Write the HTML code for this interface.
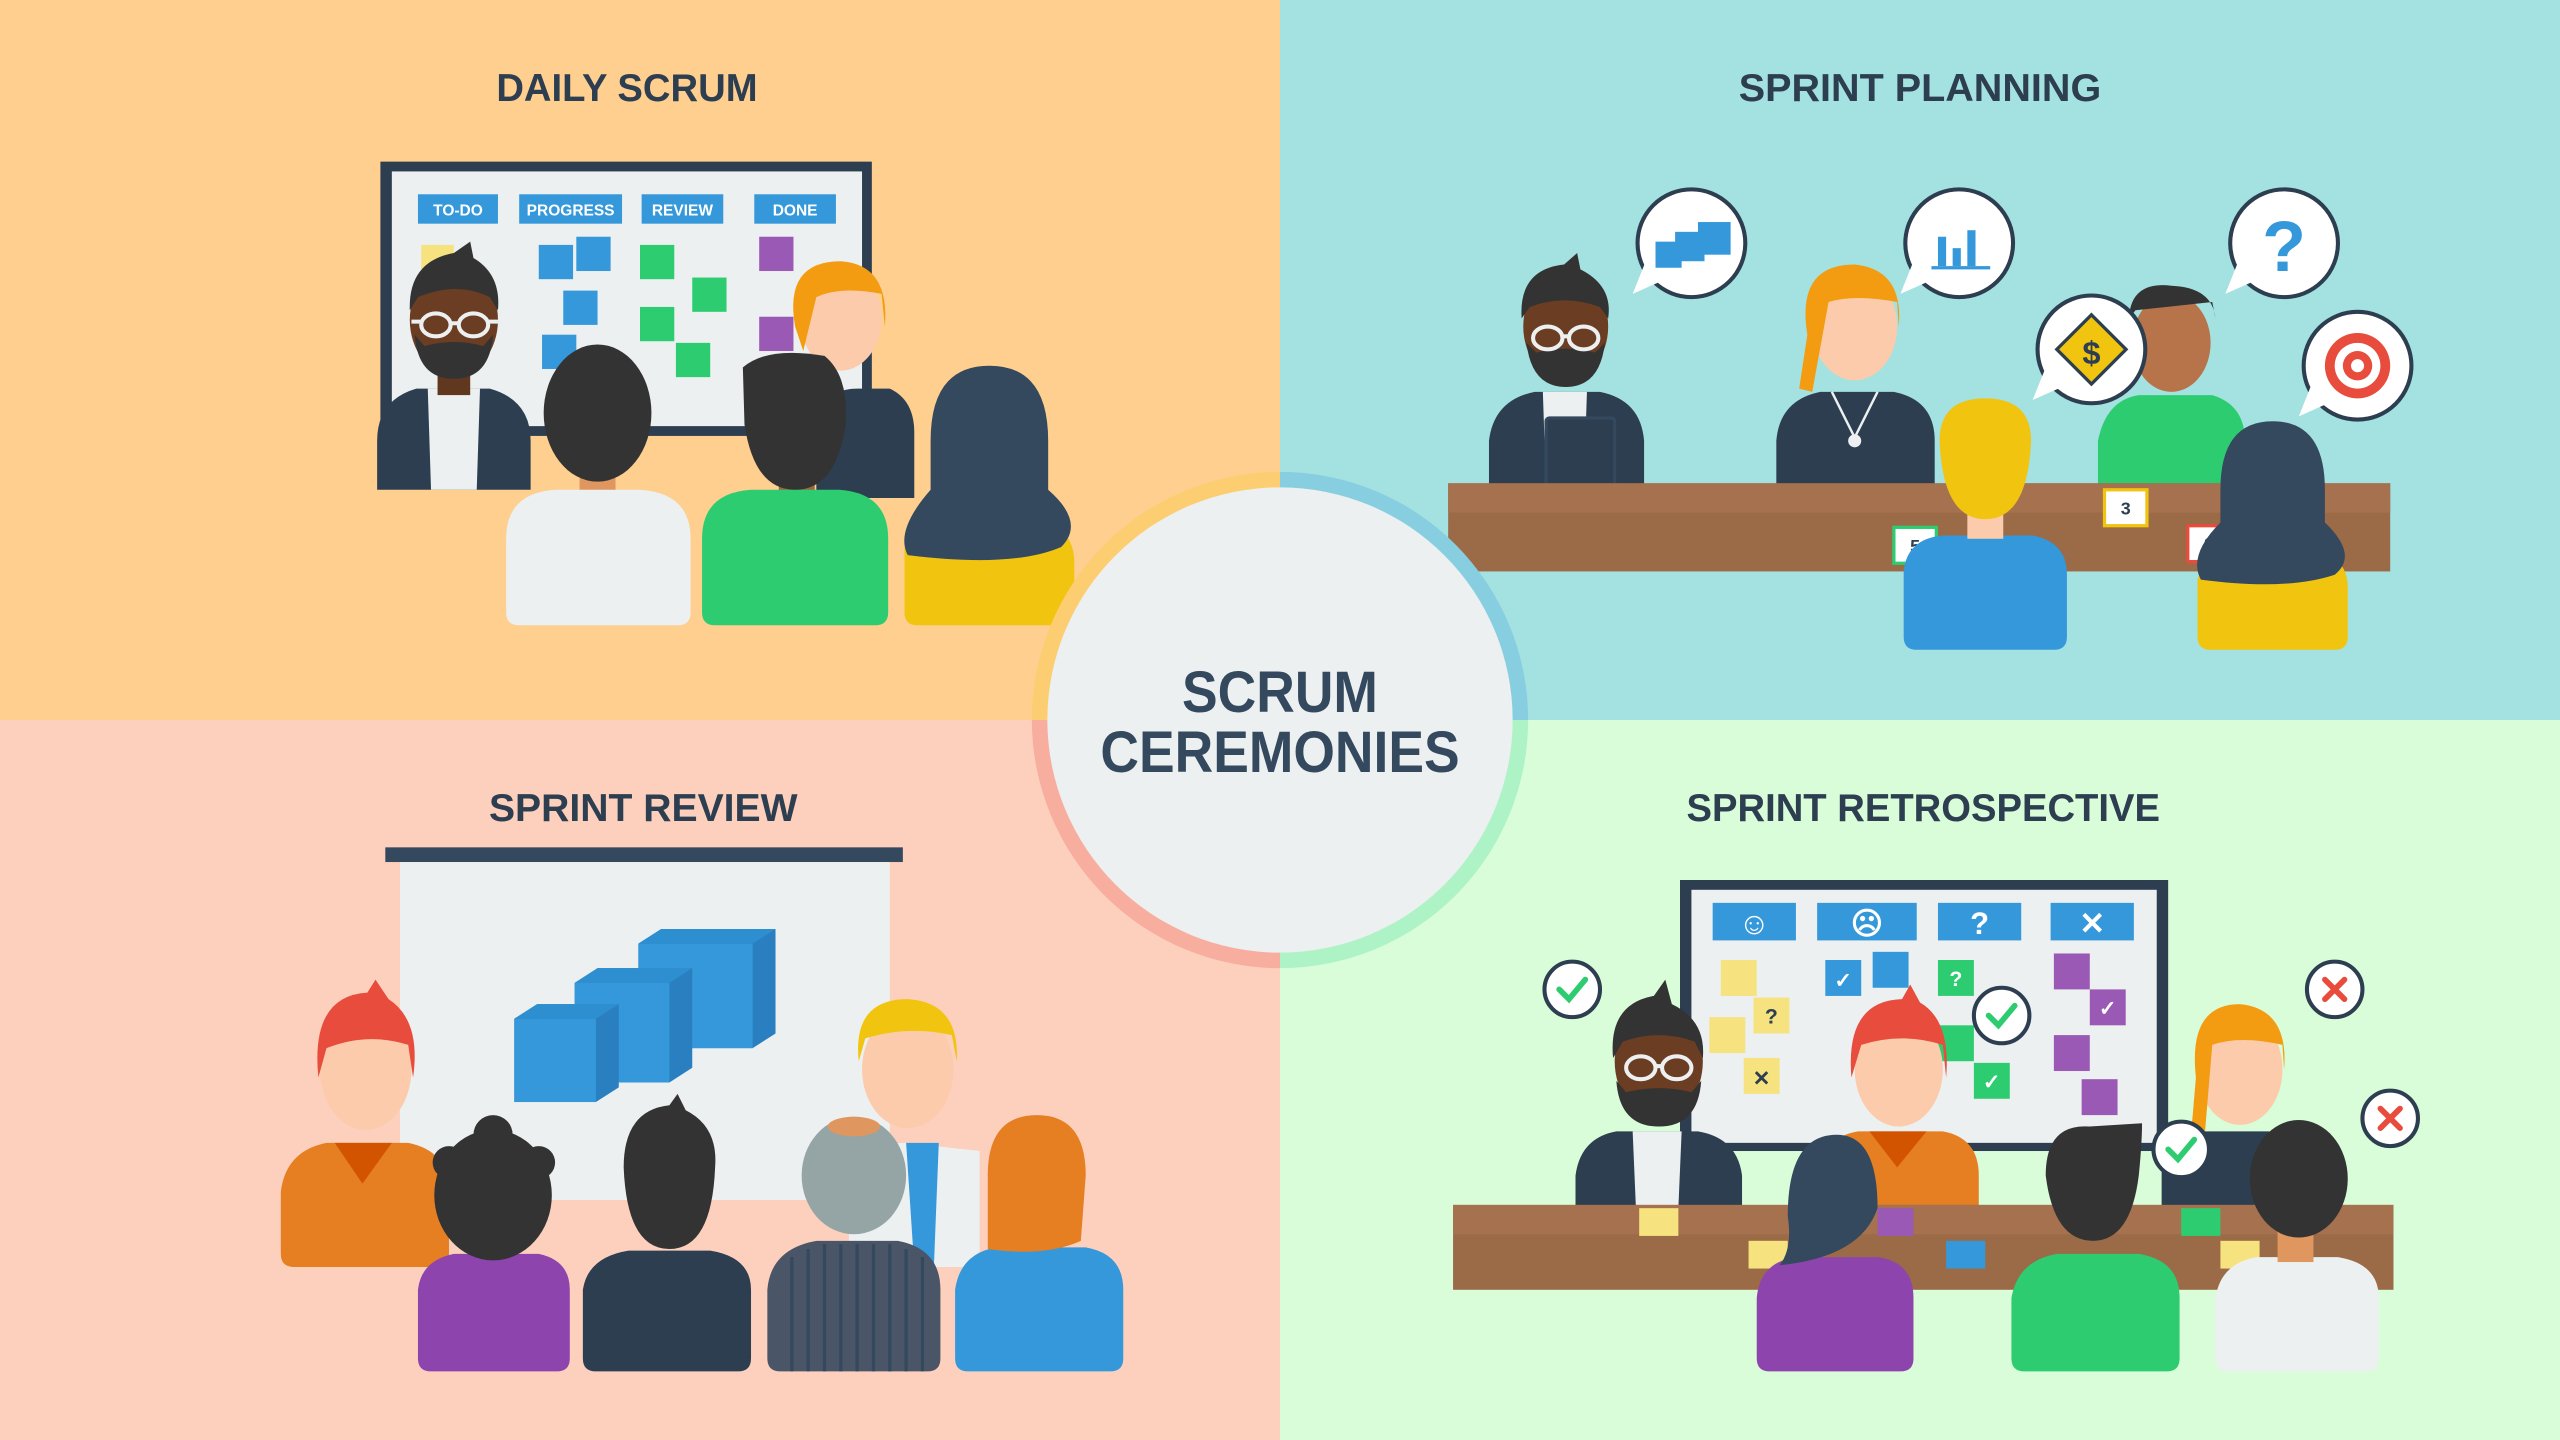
<!DOCTYPE html>
<html><head><meta charset="utf-8"><style>
html,body{margin:0;padding:0;width:2560px;height:1440px;overflow:hidden}
svg{display:block}
text{font-family:"Liberation Sans",sans-serif;font-weight:bold}
</style></head><body>
<svg width="2560" height="1440" viewBox="0 0 1568 882" xmlns="http://www.w3.org/2000/svg">
<rect x="0" y="0" width="784" height="441" fill="#fecf8f"/>
<rect x="784" y="0" width="784" height="441" fill="#a4e1e1"/>
<rect x="0" y="441" width="784" height="441" fill="#fdd0bd"/>
<rect x="784" y="441" width="784" height="441" fill="#d9fcd9"/>

<g fill="#2c3e50" font-size="24" text-anchor="middle">
<text x="384" y="62" textLength="160" lengthAdjust="spacingAndGlyphs">DAILY SCRUM</text>
<text x="1176" y="62" textLength="222" lengthAdjust="spacingAndGlyphs">SPRINT PLANNING</text>
<text x="394" y="503" textLength="189" lengthAdjust="spacingAndGlyphs">SPRINT REVIEW</text>
<text x="1178" y="503" textLength="290" lengthAdjust="spacingAndGlyphs">SPRINT RETROSPECTIVE</text>
</g>

<!-- ===== DAILY SCRUM ===== -->
<rect x="233" y="99" width="301" height="168" fill="#2c3e50"/>
<rect x="240" y="105" width="288" height="156" fill="#ecf0f1"/>
<g fill="#3498db"><rect x="256" y="119" width="49" height="18"/><rect x="318" y="119" width="63" height="18"/><rect x="393" y="119" width="50" height="18"/><rect x="462" y="119" width="50" height="18"/></g>
<g fill="#fff" font-size="9.5" text-anchor="middle"><text x="280.5" y="132">TO-DO</text><text x="349.5" y="132">PROGRESS</text><text x="418" y="132">REVIEW</text><text x="487" y="132">DONE</text></g>
<g fill="#3498db"><rect x="330" y="150" width="21" height="21"/><rect x="353" y="145" width="21" height="21"/><rect x="345" y="178" width="21" height="21"/><rect x="332" y="205" width="21" height="21"/></g>
<g fill="#2ecc71"><rect x="392" y="150" width="21" height="21"/><rect x="424" y="170" width="21" height="21"/><rect x="392" y="188" width="21" height="21"/><rect x="414" y="210" width="21" height="21"/></g>
<g fill="#9b59b6"><rect x="465" y="145" width="21" height="21"/><rect x="465" y="194" width="21" height="21"/></g>
<rect x="258" y="150" width="20" height="20" fill="#f6e27f"/>
<!-- man glasses -->
<path d="M231 270 Q231 245 255 238 L300 238 Q325 245 325 270 L325 300 L231 300Z" fill="#2c3e50"/>
<path d="M262 238 L294 238 L292 300 L264 300Z" fill="#ecf0f1"/>
<rect x="268" y="220" width="20" height="22" fill="#60381f"/>
<ellipse cx="278" cy="196" rx="27" ry="34" fill="#6b3d22"/>
<path d="M251 190 Q250 160 278 155 L288 148 L290 158 Q307 168 305 190 L300 182 Q280 172 256 182Z" fill="#333"/>
<path d="M254 205 Q256 232 278 232 Q300 232 302 205 L296 212 Q278 207 260 212Z" fill="#333"/>
<g fill="none" stroke="#ecf0f1" stroke-width="2.5"><ellipse cx="267" cy="199" rx="9" ry="7"/><ellipse cx="290" cy="199" rx="9" ry="7"/><path d="M276 198 H281 M258 197 H252 M299 197 H305"/></g>
<!-- orange woman -->
<path d="M500 250 Q510 238 525 238 L545 238 Q560 245 560 265 L560 305 L500 305Z" fill="#2c3e50"/>
<ellipse cx="515" cy="195" rx="25" ry="32" fill="#fccbab"/>
<path d="M487 200 Q480 160 515 160 Q545 162 542 200 L540 180 Q515 175 500 182 L492 215Z" fill="#f39c12"/>
<!-- back people -->
<rect x="355" y="280" width="22" height="25" fill="#e0965f"/>
<path d="M310 330 Q310 302 340 300 L392 300 Q423 302 423 330 L423 375 Q423 383 415 383 L318 383 Q310 383 310 375Z" fill="#ecf0f1"/>
<ellipse cx="366" cy="253" rx="33" ry="42" fill="#333"/>
<rect x="477" y="280" width="22" height="25" fill="#9b6742"/>
<path d="M430 330 Q430 302 460 300 L514 300 Q544 302 544 330 L544 375 Q544 383 536 383 L438 383 Q430 383 430 375Z" fill="#2ecc71"/>
<path d="M455 225 Q470 212 505 218 Q520 230 518 260 Q512 300 487 300 Q462 300 456 260Z" fill="#333"/>
<path d="M554 335 Q560 325 580 320 L640 320 Q658 325 658 345 L658 375 Q658 383 650 383 L562 383 Q554 383 554 375Z" fill="#f1c40f"/>
<path d="M570 270 Q570 224 606 224 Q642 224 642 270 L642 300 Q665 320 650 335 Q620 348 556 340 Q548 325 570 300Z" fill="#34495e"/>

<!-- ===== SPRINT PLANNING ===== -->
<path d="M912 270 Q915 245 940 240 L980 240 Q1005 245 1007 270 L1007 300 L912 300Z" fill="#2c3e50"/>
<path d="M945 240 L972 240 L970 300 L947 300Z" fill="#ecf0f1"/>
<ellipse cx="959" cy="200" rx="26" ry="33" fill="#6b3d22"/>
<path d="M932 195 Q930 165 958 162 L966 155 L968 165 Q988 175 985 195 L980 188 Q958 180 937 188Z" fill="#333"/>
<path d="M935 210 Q938 237 959 237 Q980 237 983 210 L977 216 Q959 211 941 216Z" fill="#333"/>
<g fill="none" stroke="#ecf0f1" stroke-width="2.5"><ellipse cx="948" cy="207" rx="9" ry="7"/><ellipse cx="970" cy="207" rx="9" ry="7"/><path d="M957 206 H961"/></g>
<rect x="947" y="256" width="42" height="52" rx="2" fill="#2c3e50" stroke="#34495e" stroke-width="2"/>
<path d="M1088 270 Q1090 245 1115 240 L1160 240 Q1185 245 1185 270 L1185 300 L1088 300Z" fill="#2c3e50"/>
<ellipse cx="1136" cy="200" rx="26" ry="33" fill="#fccbab"/>
<path d="M1107 205 Q1100 162 1136 162 Q1166 165 1163 200 L1162 185 Q1136 180 1120 185 L1110 240 L1102 238Z" fill="#f39c12"/>
<path d="M1122 240 L1136 268 L1150 240" fill="none" stroke="#ecf0f1" stroke-width="1.5"/><circle cx="1136" cy="270" r="4" fill="#ecf0f1"/>
<path d="M1285 270 Q1290 245 1310 242 L1355 242 Q1375 248 1375 270 L1375 300 L1285 300Z" fill="#2ecc71"/>
<ellipse cx="1330" cy="210" rx="24" ry="30" fill="#b7744a"/>
<path d="M1304 195 Q1305 172 1330 175 Q1355 176 1357 195 L1355 185 L1308 190Z" fill="#333"/>
<rect x="887" y="296" width="577" height="54" fill="#9b6a47"/>
<rect x="887" y="296" width="577" height="18" fill="#a6714e"/>
<g font-size="11" text-anchor="middle" fill="#2c3e50">
<rect x="1160" y="323" width="26" height="22" fill="#fff" stroke="#2ecc71" stroke-width="2"/><text x="1173" y="338">5</text>
<rect x="1289" y="300" width="26" height="22" fill="#fff" stroke="#f1c40f" stroke-width="2"/><text x="1302" y="315">3</text>
<rect x="1340" y="322" width="26" height="22" fill="#fff" stroke="#e74c3c" stroke-width="2"/><text x="1353" y="337">2</text>
</g>
<path d="M1166 350 Q1168 330 1190 328 L1245 328 Q1266 332 1266 352 L1266 390 Q1266 398 1258 398 L1174 398 Q1166 398 1166 390Z" fill="#3498db"/>
<rect x="1205" y="300" width="22" height="30" fill="#fccbab"/>
<path d="M1188 270 Q1188 244 1216 244 Q1244 244 1244 270 Q1242 318 1216 318 Q1190 318 1188 270Z" fill="#f1c40f"/>
<path d="M1346 355 Q1350 340 1370 338 L1420 338 Q1438 342 1438 360 L1438 390 Q1438 398 1430 398 L1354 398 Q1346 398 1346 390Z" fill="#f1c40f"/>
<path d="M1360 300 Q1360 258 1392 258 Q1424 258 1424 300 L1424 320 Q1445 340 1430 352 Q1400 362 1348 355 Q1340 340 1360 320Z" fill="#34495e"/>
<g fill="#fff" stroke="#2c3e50" stroke-width="2.5">
<circle cx="1036" cy="149" r="33"/><circle cx="1200" cy="149" r="33"/><circle cx="1399" cy="149" r="33"/><circle cx="1281" cy="214" r="33"/><circle cx="1444" cy="224" r="33"/>
</g>
<g fill="#fff"><path d="M1008 160 L1000 180 L1018 172Z"/><path d="M1172 160 L1164 180 L1182 172Z"/><path d="M1371 160 L1363 180 L1381 172Z"/><path d="M1253 225 L1245 245 L1263 237Z"/><path d="M1416 235 L1408 255 L1426 247Z"/></g>
<g fill="#3498db"><rect x="1014" y="148" width="16" height="16"/><rect x="1026" y="142" width="18" height="18"/><rect x="1040" y="136" width="20" height="20"/></g>
<g fill="#3498db"><rect x="1187" y="145" width="5" height="18"/><rect x="1196" y="152" width="5" height="11"/><rect x="1205" y="141" width="5" height="22"/><rect x="1183" y="163" width="36" height="2"/></g>
<text x="1399" y="166" font-size="44" fill="#3498db" text-anchor="middle">?</text>
<rect x="1266" y="199" width="30" height="30" fill="#f1c40f" stroke="#2c3e50" stroke-width="2" transform="rotate(45 1281 214)"/>
<text x="1281" y="223" font-size="20" fill="#2c3e50" text-anchor="middle">$</text>
<circle cx="1444" cy="224" r="20" fill="#e74c3c"/><circle cx="1444" cy="224" r="14" fill="#fff"/><circle cx="1444" cy="224" r="9" fill="#e74c3c"/><circle cx="1444" cy="224" r="4" fill="#fff"/>

<!-- ===== CENTER ===== -->
<path d="M784 441 L784 289 A152 152 0 0 0 632 441Z" fill="#fdcd72"/>
<path d="M784 441 L784 289 A152 152 0 0 1 936 441Z" fill="#87cfe0"/>
<path d="M784 441 L632 441 A152 152 0 0 0 784 593Z" fill="#f8ae9f"/>
<path d="M784 441 L936 441 A152 152 0 0 1 784 593Z" fill="#aef3c6"/>
<circle cx="784" cy="441" r="142.5" fill="#ecf0f1"/>
<g fill="#34495e" font-size="36" text-anchor="middle"><text x="784" y="436" textLength="120" lengthAdjust="spacingAndGlyphs">SCRUM</text><text x="784" y="473" textLength="220" lengthAdjust="spacingAndGlyphs">CEREMONIES</text></g>

<!-- ===== SPRINT REVIEW ===== -->
<rect x="236" y="519" width="317" height="9" fill="#34495e"/>
<rect x="245" y="528" width="300" height="207" fill="#ecf0f1"/>
<g>
<path d="M391 578 L405 569 L475 569 L475 633 L461 642 L391 642Z" fill="#2a7fc0"/><rect x="391" y="578" width="70" height="64" fill="#3498db"/><path d="M391 578 L405 569 L475 569 L461 578Z" fill="#2e8fd0"/>
<path d="M352 602 L366 593 L424 593 L424 654 L410 663 L352 663Z" fill="#2a7fc0"/><rect x="352" y="602" width="58" height="61" fill="#3498db"/><path d="M352 602 L366 593 L424 593 L410 602Z" fill="#2e8fd0"/>
<path d="M315 624 L329 615 L379 615 L379 666 L365 675 L315 675Z" fill="#2a7fc0"/><rect x="315" y="624" width="50" height="51" fill="#3498db"/><path d="M315 624 L329 615 L379 615 L365 624Z" fill="#2e8fd0"/>
</g>
<path d="M172 730 Q175 705 200 700 L250 700 Q275 705 275 730 L275 768 Q275 776 267 776 L180 776 Q172 776 172 768Z" fill="#e67e22"/>
<path d="M205 700 L222 725 L240 700Z" fill="#d35400"/>
<ellipse cx="224" cy="655" rx="28" ry="37" fill="#fccbab"/>
<path d="M195 660 Q190 610 225 608 L230 600 L238 612 Q258 625 253 660 L250 640 Q225 632 200 642Z" fill="#e74c3c"/>
<path d="M520 720 Q530 700 555 700 L600 705 L600 776 L520 776Z" fill="#ecf0f1"/><path d="M555 700 L575 700 L572 776 L560 776Z" fill="#3498db"/>
<ellipse cx="556" cy="655" rx="28" ry="36" fill="#fccbab"/>
<path d="M526 650 Q522 612 556 612 Q588 614 586 650 L583 634 Q556 628 530 636Z" fill="#f1c40f"/>
<path d="M256 790 Q258 772 278 768 L330 768 Q349 772 349 790 L349 832 Q349 840 341 840 L264 840 Q256 840 256 832Z" fill="#8e44ad"/>
<ellipse cx="302" cy="732" rx="36" ry="40" fill="#333"/><circle cx="275" cy="712" r="10" fill="#333"/><circle cx="330" cy="712" r="10" fill="#333"/><circle cx="302" cy="695" r="12" fill="#333"/>
<path d="M357 790 Q360 770 385 766 L435 766 Q460 770 460 790 L460 832 Q460 840 452 840 L365 840 Q357 840 357 832Z" fill="#2c3e50"/>
<path d="M382 715 Q382 680 410 677 L415 670 L420 680 Q440 690 438 715 Q436 765 410 765 Q384 765 382 715Z" fill="#333"/>
<path d="M470 790 Q472 765 500 760 L550 760 Q576 765 576 790 L576 832 Q576 840 568 840 L478 840 Q470 840 470 832Z" fill="#4a5568"/>
<g stroke="#34495e" stroke-width="2"><path d="M485 770V840M495 765V840M505 762V840M515 762V840M525 762V840M535 762V840M545 762V840M555 765V840M565 770V840"/></g>
<ellipse cx="523" cy="720" rx="32" ry="36" fill="#95a5a6"/><ellipse cx="523" cy="690" rx="16" ry="6" fill="#e0965f"/>
<path d="M585 790 Q588 768 610 764 L665 764 Q688 768 688 790 L688 832 Q688 840 680 840 L593 840 Q585 840 585 832Z" fill="#3498db"/>
<path d="M605 720 Q605 683 635 683 Q665 683 665 720 L662 760 Q640 770 605 765Z" fill="#e67e22"/>

<!-- ===== RETRO ===== -->
<rect x="1029" y="539" width="299" height="166" fill="#2c3e50"/>
<rect x="1036" y="545" width="285" height="155" fill="#ecf0f1"/>
<g fill="#3498db"><rect x="1049" y="553" width="51" height="23"/><rect x="1113" y="553" width="61" height="23"/><rect x="1187" y="553" width="51" height="23"/><rect x="1256" y="553" width="51" height="23"/></g>
<g fill="#fff" font-size="19" text-anchor="middle"><text x="1074.5" y="572">☺</text><text x="1143.5" y="572">☹</text><text x="1212.5" y="572">?</text><text x="1281.5" y="572">✕</text></g>
<g fill="#f6e27f"><rect x="1054" y="588" width="22" height="22"/><rect x="1074" y="611" width="22" height="22"/><rect x="1047" y="623" width="22" height="22"/><rect x="1068" y="648" width="22" height="22"/></g>
<g fill="#3498db"><rect x="1118" y="588" width="22" height="22"/><rect x="1147" y="583" width="22" height="22"/></g>
<g fill="#2ecc71"><rect x="1187" y="588" width="22" height="22"/><rect x="1187" y="628" width="22" height="22"/><rect x="1209" y="651" width="22" height="22"/></g>
<g fill="#9b59b6"><rect x="1258" y="584" width="22" height="22"/><rect x="1280" y="606" width="22" height="22"/><rect x="1258" y="634" width="22" height="22"/><rect x="1275" y="661" width="22" height="22"/></g>
<g font-size="13" fill="#2c3e50" text-anchor="middle"><text x="1085" y="627">?</text><text x="1079" y="665">✕</text></g>
<g font-size="13" fill="#fff" text-anchor="middle"><text x="1129" y="605">✓</text><text x="1198" y="604">?</text><text x="1220" y="667">✓</text><text x="1291" y="622">✓</text></g>
<path d="M965 720 Q968 697 990 693 L1040 693 Q1064 697 1067 720 L1067 740 L965 740Z" fill="#2c3e50"/>
<path d="M1000 693 L1030 693 L1028 740 L1002 740Z" fill="#ecf0f1"/>
<ellipse cx="1016" cy="650" rx="27" ry="35" fill="#6b3d22"/>
<path d="M988 648 Q985 615 1013 610 L1020 600 L1024 615 Q1045 625 1043 648 L1038 638 Q1016 630 994 638Z" fill="#333"/>
<path d="M990 662 Q992 690 1016 690 Q1040 690 1042 662 L1036 669 Q1016 664 996 669Z" fill="#333"/>
<g fill="none" stroke="#ecf0f1" stroke-width="2.5"><ellipse cx="1005" cy="654" rx="9" ry="7"/><ellipse cx="1027" cy="654" rx="9" ry="7"/><path d="M1014 653 H1018"/></g>
<path d="M1113 720 Q1115 697 1138 693 L1190 693 Q1212 697 1212 720 L1212 740 L1113 740Z" fill="#e67e22"/>
<path d="M1145 693 L1162 715 L1180 693Z" fill="#d35400"/>
<ellipse cx="1163" cy="655" rx="27" ry="35" fill="#fccbab"/>
<path d="M1134 660 Q1130 613 1165 612 L1170 603 L1176 614 Q1195 625 1192 660 L1190 640 Q1165 632 1140 640Z" fill="#e74c3c"/>
<path d="M1324 710 Q1330 695 1350 693 L1390 693 L1390 740 L1324 740Z" fill="#2c3e50"/>
<ellipse cx="1372" cy="655" rx="26" ry="34" fill="#fccbab"/>
<path d="M1345 660 Q1340 615 1372 615 Q1402 618 1399 655 L1398 640 Q1372 634 1355 640 L1350 700 L1342 695Z" fill="#f39c12"/>
<rect x="890" y="738" width="576" height="52" fill="#9b6a47"/>
<rect x="890" y="738" width="576" height="18" fill="#a6714e"/>
<g><rect x="1004" y="740" width="24" height="17" fill="#f6e27f"/><rect x="1071" y="760" width="24" height="17" fill="#f6e27f"/><rect x="1150" y="740" width="22" height="17" fill="#9b59b6"/><rect x="1192" y="760" width="24" height="17" fill="#3498db"/><rect x="1336" y="740" width="24" height="17" fill="#2ecc71"/><rect x="1360" y="760" width="24" height="17" fill="#f6e27f"/></g>
<path d="M1076 795 Q1078 773 1100 770 L1150 770 Q1172 773 1172 795 L1172 832 Q1172 840 1164 840 L1084 840 Q1076 840 1076 832Z" fill="#8e44ad"/>
<path d="M1095 745 Q1095 695 1125 695 Q1150 695 1150 740 Q1140 770 1090 775 Q1098 765 1095 745Z" fill="#34495e"/>
<path d="M1232 795 Q1236 772 1260 768 L1310 768 Q1335 772 1335 795 L1335 832 Q1335 840 1327 840 L1240 840 Q1232 840 1232 832Z" fill="#2ecc71"/>
<path d="M1253 720 Q1253 688 1280 690 L1312 688 Q1312 700 1310 720 Q1305 760 1282 760 Q1258 760 1253 720Z" fill="#333"/>
<path d="M1357 795 Q1360 774 1382 770 L1432 770 Q1457 774 1457 795 L1457 832 Q1457 840 1449 840 L1365 840 Q1357 840 1357 832Z" fill="#ecf0f1"/>
<rect x="1395" y="745" width="22" height="28" fill="#e0965f"/>
<ellipse cx="1408" cy="722" rx="30" ry="36" fill="#333"/>
<g fill="#fff" stroke="#2c3e50" stroke-width="2.5">
<circle cx="963" cy="606" r="17"/><circle cx="1226" cy="622" r="17"/><circle cx="1336" cy="704" r="17"/><circle cx="1430" cy="606" r="17"/><circle cx="1464" cy="685" r="17"/>
</g>
<g fill="none" stroke-width="3.5" stroke-linecap="round">
<path d="M955 606 L961 612 L971 600" stroke="#2ecc71"/><path d="M1218 622 L1224 628 L1234 616" stroke="#2ecc71"/><path d="M1328 704 L1334 710 L1344 698" stroke="#2ecc71"/>
<path d="M1424 600 L1436 612 M1436 600 L1424 612" stroke="#e74c3c"/><path d="M1458 679 L1470 691 M1470 679 L1458 691" stroke="#e74c3c"/>
</g>
</svg>
</body></html>
